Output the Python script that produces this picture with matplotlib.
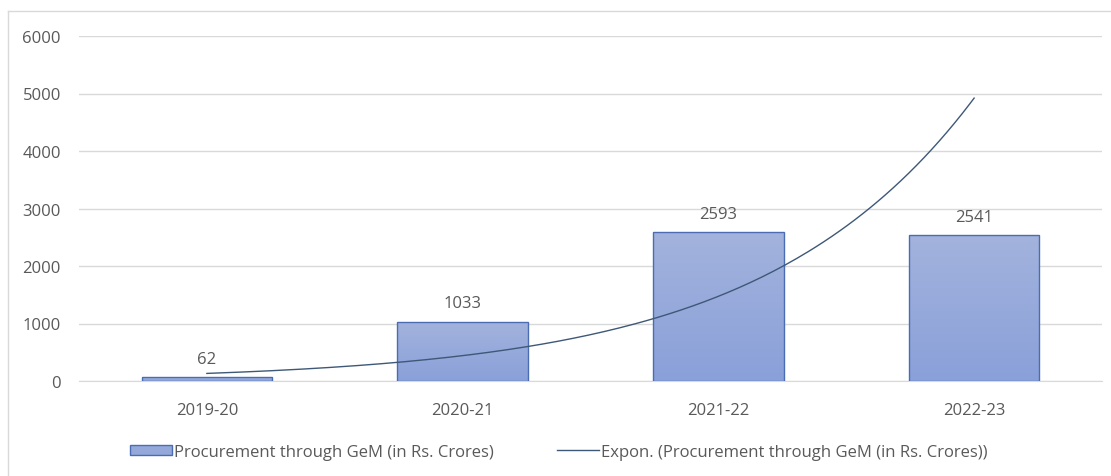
import numpy as np
import matplotlib
matplotlib.use('Agg')
import matplotlib.pyplot as plt
from matplotlib.patches import Patch
from matplotlib.lines import Line2D

years = ['2019-20', '2020-21', '2021-22', '2022-23']
procurement = [62, 1033, 2593, 2541]
y_ticks = [0, 1000, 2000, 3000, 4000, 5000, 6000]
bar_label = 'Procurement through GeM (in Rs. Crores)'
trend_label = 'Expon. (Procurement through GeM (in Rs. Crores))'

plt.rcParams['font.family'] = ['Open Sans', 'DejaVu Sans']
grey = '#595959'
fs = 12

fig = plt.figure(figsize=(11.11, 4.77), dpi=100)
ax = fig.add_axes([79/1111, 95/477, 1023/1111, 345/477])

x = np.arange(len(years))
bars = ax.bar(x, procurement, width=0.51, color='none', edgecolor='#4a6cb3', linewidth=1.0, zorder=3)

# gradient fill like excel
grad = np.linspace(0, 1, 256).reshape(-1, 1)
cmap = matplotlib.colors.LinearSegmentedColormap.from_list('g', ['#8aa0d9', '#a3b3dd'])
for b in bars:
    x0, w, h = b.get_x(), b.get_width(), b.get_height()
    im = ax.imshow(grad, extent=(x0, x0 + w, 0, h), origin='lower', cmap=cmap,
                   aspect='auto', zorder=2)
    im.set_clip_path(b)

for xi, v in zip(x, procurement):
    ax.text(xi, v + 180, str(v), ha='center', va='bottom', fontsize=fs, color=grey)

# exponential trendline (least squares on log values, x = 1..n)
xs = np.arange(1, len(procurement) + 1)
b_, a_ = np.polyfit(xs, np.log(procurement), 1)
xt = np.linspace(1, len(procurement), 200)
yt = np.exp(a_ + b_ * xt)
ax.plot(xt - 1, yt, color='#3e5877', linewidth=1.0, zorder=4)

ax.set_xlim(-0.5, len(years) - 0.5)
ax.set_ylim(0, 6000)
ax.set_yticks(y_ticks)
ax.set_xticks(x)
ax.set_xticklabels(years)
ax.tick_params(axis='both', length=0, labelsize=fs, labelcolor=grey)
ax.tick_params(axis='x', pad=15)
ax.tick_params(axis='y', pad=13)
ax.grid(axis='y', color='#d9d9d9', linewidth=1.0, zorder=0)
ax.set_axisbelow(True)
for s in ['top', 'right', 'left']:
    ax.spines[s].set_visible(False)
ax.spines['bottom'].set_color('#d9d9d9')

handles = [Patch(facecolor='#94a8da', edgecolor='#4a6cb3', label=bar_label),
           Line2D([0], [0], color='#3e5877', linewidth=1.0, label=trend_label)]
fig.legend(handles=handles, loc='center', bbox_to_anchor=(0.503, 1 - 453/477), ncol=2,
           frameon=False, fontsize=fs, labelcolor=grey, handlelength=2.5,
           handletextpad=0.15, columnspacing=3.8, handleheight=0.6)

# chart border (left and top only visible)
fig.add_artist(Line2D([8/1111, 8/1111], [0, 1 - 12/477], transform=fig.transFigure,
                      color='#d9d9d9', linewidth=1.0))
fig.add_artist(Line2D([8/1111, 1], [1 - 12/477, 1 - 12/477], transform=fig.transFigure,
                      color='#d9d9d9', linewidth=1.0))

fig.savefig('out.png', dpi=100)
